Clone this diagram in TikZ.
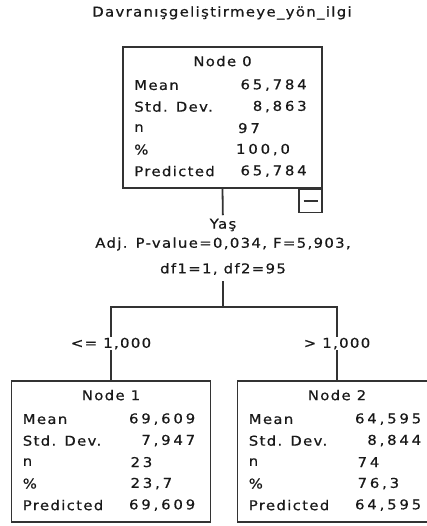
\documentclass[tikz,border=0pt]{standalone}
\usepackage{fontspec}
\newfontfamily\spssfont{DejaVu Sans}[FakeStretch=1.1,LetterSpace=10,FakeBold=0.6]
\newfontfamily\spssnum{DejaVu Sans}[FakeStretch=1.1,LetterSpace=21,FakeBold=0.6]
\usetikzlibrary{calc,positioning}

\tikzset{
  treebox/.style={draw=black!80,line width=1.8pt,minimum width=199pt,minimum height=141pt,inner sep=0pt},
  foldbox/.style={draw=black!80,line width=1.6pt,minimum size=23pt,inner sep=0pt,anchor=north east},
  link/.style={draw=black!80,line width=1.8pt},
  branch/.style={fill=white,inner sep=1pt},
  lab/.style={anchor=west,inner sep=0pt},
  val/.style={anchor=east,inner sep=0pt,font=\spssnum\fontsize{13.5}{15}\selectfont},
  lval/.style={anchor=west,inner sep=0pt,font=\spssnum\fontsize{13.5}{15}\selectfont},
}

\begin{document}
\begin{tikzpicture}[x=1pt,y=-1pt,every node/.style={font=\spssfont\fontsize{13.5}{15}\selectfont,text=black!90}]
\useasboundingbox (0,0) rectangle (427,526);
\clip (0,0) rectangle (427,526);

\node (Title) at (222,13) {Davranışgeliştirmeye\_yön\_ilgi};

% boxes
\node [treebox] (Node0) at (222.5,117.5) {};
\node [treebox] (Node1) at (111,451.5) {};
\node [treebox] (Node2) at (337,451.5) {};
\node [foldbox] (Node0Fold) at (Node0.south east) {};
\draw [line width=1.6pt,black!80] ($(Node0Fold.center)+(-7,0)$) -- ($(Node0Fold.center)+(7,0)$);

% titles and row labels
\foreach \nd/\num in {Node0/0,Node1/1,Node2/2} {
  \node (\nd Title) at ($(\nd.north)+(0,15)$) {Node \num};
  \foreach \lbl [count=\i from 0] in {Mean,Std. Dev.,n,\%,Predicted}
    \node [lab] (\nd Row\i) at ($(\nd.north west)+(12,39+21.5*\i)$) {\lbl};
}

% values
\node [val] (Node0Mean) at ($(Node0.north east)+(-16,39)$) {65,784};
\node [val] (Node0Sd) at ($(Node0.north east)+(-16,60.5)$) {8,863};
\node [lval] (Node0N) at ($(Node0.north east)+(-85,82)$) {97};
\node [lval] (Node0Pct) at ($(Node0.north east)+(-87,103.5)$) {100,0};
\node [val] (Node0Pred) at ($(Node0.north east)+(-16,125)$) {65,784};

\node [val] (Node1Mean) at ($(Node1.north east)+(-16,39)$) {69,609};
\node [val] (Node1Sd) at ($(Node1.north east)+(-16,60.5)$) {7,947};
\node [lval] (Node1N) at ($(Node1.north east)+(-81,82)$) {23};
\node [lval] (Node1Pct) at ($(Node1.north east)+(-81,103.5)$) {23,7};
\node [val] (Node1Pred) at ($(Node1.north east)+(-16,125)$) {69,609};

\node [val] (Node2Mean) at ($(Node2.north east)+(-16,39)$) {64,595};
\node [val] (Node2Sd) at ($(Node2.north east)+(-16,60.5)$) {8,844};
\node [lval] (Node2N) at ($(Node2.north east)+(-80,82)$) {74};
\node [lval] (Node2Pct) at ($(Node2.north east)+(-80,103.5)$) {76,3};
\node [val] (Node2Pred) at ($(Node2.north east)+(-16,125)$) {64,595};

% split
\node (SplitVar) at (223,225) {Yaş};
\node (SplitStat) at (223,244) {Adj. P-value=0,034, F=5,903,};
\node (SplitDf) at (223,269) {df1=1, df2=95};
\coordinate (Fork) at (223,307);

\draw [link] (Node0.south) -- (SplitVar);
\draw [link,shorten <=3pt] (SplitDf) -- (Fork);
\draw [link] (Fork) -- (Fork -| Node1.north) -- node [branch] {<= 1,000} (Node1.north);
\draw [link] (Fork) -- (Fork -| Node2.north) -- node [branch] {> 1,000} (Node2.north);
\end{tikzpicture}
\end{document}
